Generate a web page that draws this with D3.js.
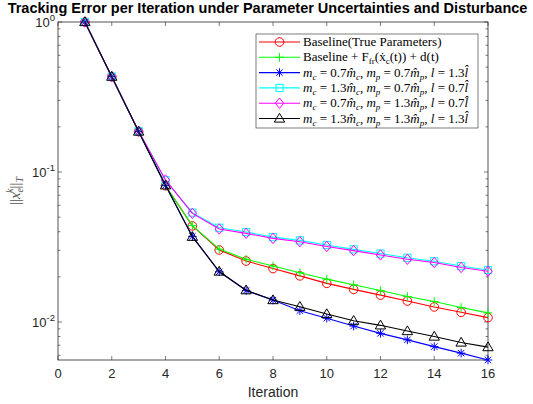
<!DOCTYPE html>
<html>
<head>
<meta charset="utf-8">
<script src="https://cdn.jsdelivr.net/npm/d3@7"></script>
<style>
  body { margin: 0; background: #fff; }
  svg { display: block; }
</style>
</head>
<body>
<div class="chart"></div>
<script>
// data
const iterations = [1, 2, 3, 4, 5, 6, 7, 8, 9, 10, 11, 12, 13, 14, 15, 16];
const baseline = [1, 0.432, 0.186, 0.081, 0.0437, 0.0302, 0.0255, 0.0227, 0.0203, 0.0181, 0.0165, 0.0151, 0.0138, 0.0126, 0.0116, 0.0107];
const baselineFric = [1, 0.432, 0.186, 0.081, 0.0439, 0.0306, 0.0262, 0.0236, 0.0213, 0.0193, 0.0177, 0.0162, 0.0148, 0.0137, 0.0125, 0.0115];
const case1 = [1, 0.432, 0.186, 0.0815, 0.0372, 0.0216, 0.0162, 0.0140, 0.0119, 0.0106, 0.0094, 0.0084, 0.0076, 0.00685, 0.0062, 0.00558];
const case2 = [1, 0.432, 0.187, 0.088, 0.0536, 0.0425, 0.0398, 0.0368, 0.0350, 0.0326, 0.0305, 0.0286, 0.0268, 0.0254, 0.0236, 0.0222];
const case3 = [1, 0.432, 0.187, 0.0885, 0.053, 0.0417, 0.039, 0.0361, 0.0343, 0.0319, 0.0299, 0.028, 0.0262, 0.0249, 0.0231, 0.0218];
const case4 = [1, 0.432, 0.186, 0.0815, 0.037, 0.0217, 0.0163, 0.0140, 0.01265, 0.0113, 0.0102, 0.0095, 0.0087, 0.0080, 0.0073, 0.0068];

const xTicks = [0, 2, 4, 6, 8, 10, 12, 14, 16];
const yTicks = [1, 0.1, 0.01];
const yTickExp = ["0", "-1", "-2"];

const width = 533;
const height = 404;
const margin = { top: 22, right: 45, bottom: 44, left: 58 };
const axisColor = "#262626";
const serif = "'Liberation Serif', 'DejaVu Serif', serif";
const sans = "'Liberation Sans', Arial, sans-serif";

const svg = d3.select(".chart")
    .append("svg")
    .attr("width", width)
    .attr("height", height);

const x = d3.scaleLinear()
    .domain([0, 16])
    .range([margin.left, width - margin.right]);

const y = d3.scaleLog()
    .domain([0.00558, 1])
    .range([height - margin.bottom, margin.top]);

const x0 = x.range()[0], x1 = x.range()[1];
const y0 = y.range()[0], y1 = y.range()[1];

// minor ticks for the log axis (2..9 of each decade inside the domain)
let minor = [];
[0.001, 0.01, 0.1].forEach(function(dec) {
  for (let k = 2; k <= 9; k++) {
    const v = dec * k;
    if (v >= y.domain()[0] && v <= 1) minor.push(v);
  }
});

const axes = svg.append("g").attr("class", "axes");

// x ticks bottom and top
xTicks.forEach(function(t) {
  axes.append("line").attr("x1", x(t)).attr("x2", x(t)).attr("y1", y0).attr("y2", y0 - 4)
      .attr("stroke", axisColor).attr("stroke-width", 0.6);
  axes.append("line").attr("x1", x(t)).attr("x2", x(t)).attr("y1", y1).attr("y2", y1 + 4)
      .attr("stroke", axisColor).attr("stroke-width", 0.6);
  axes.append("text")
      .attr("x", x(t)).attr("y", y0 + 18)
      .attr("text-anchor", "middle")
      .attr("font-family", sans).attr("font-size", 13)
      .attr("fill", axisColor)
      .text(t);
});

// y ticks left and right (major + minor)
yTicks.forEach(function(t, i) {
  axes.append("line").attr("x1", x0).attr("x2", x0 + 4).attr("y1", y(t)).attr("y2", y(t))
      .attr("stroke", axisColor).attr("stroke-width", 0.6);
  axes.append("line").attr("x1", x1).attr("x2", x1 - 4).attr("y1", y(t)).attr("y2", y(t))
      .attr("stroke", axisColor).attr("stroke-width", 0.6);
  const lab = axes.append("text")
      .attr("x", x0 - 3).attr("y", y(t) + 5)
      .attr("text-anchor", "end")
      .attr("font-family", sans).attr("font-size", 13)
      .attr("fill", axisColor);
  lab.append("tspan").text("10");
  lab.append("tspan").attr("dy", -6).attr("font-size", 9.5).text(yTickExp[i]);
});
minor.forEach(function(t) {
  axes.append("line").attr("x1", x0).attr("x2", x0 + 2.5).attr("y1", y(t)).attr("y2", y(t))
      .attr("stroke", axisColor).attr("stroke-width", 0.6);
  axes.append("line").attr("x1", x1).attr("x2", x1 - 2.5).attr("y1", y(t)).attr("y2", y(t))
      .attr("stroke", axisColor).attr("stroke-width", 0.6);
});

// box
axes.append("rect")
    .attr("x", x0).attr("y", y1)
    .attr("width", x1 - x0).attr("height", y0 - y1)
    .attr("fill", "none")
    .attr("stroke", axisColor)
    .attr("stroke-width", 0.8);

// labels
svg.append("text")
    .attr("x", (x0 + x1) / 2).attr("y", y0 + 37)
    .attr("text-anchor", "middle")
    .attr("font-family", sans).attr("font-size", 14)
    .attr("fill", axisColor)
    .text("Iteration");

svg.append("text")
    .attr("x", width / 2 + 1).attr("y", 13)
    .attr("text-anchor", "middle")
    .attr("font-family", sans).attr("font-size", 14.5)
    .attr("font-weight", "bold")
    .attr("fill", "#000")
    .text("Tracking Error per Iteration under Parameter Uncertainties and Disturbance");

const ylab = svg.append("text")
    .attr("transform", "translate(20," + ((y0 + y1) / 2) + ") rotate(-90)")
    .attr("text-anchor", "middle")
    .attr("font-family", serif).attr("font-size", 15)
    .attr("fill", "#555");
ylab.append("tspan").text("||");
ylab.append("tspan").attr("font-style", "italic").text("x");
ylab.append("tspan").attr("font-style", "italic").attr("font-size", 10).attr("dy", 3).text("e");
ylab.append("tspan").attr("font-style", "italic").attr("font-size", 10).attr("dx", -5).attr("dy", -10).text("k");
ylab.append("tspan").attr("dy", 7).text("||");
ylab.append("tspan").attr("font-style", "italic").attr("font-size", 10).attr("dy", 3).text("T");

// marker shapes
function drawMarker(g, type, color, cx, cy) {
  const s = 4.3;
  if (type === "circle") {
    g.append("circle").attr("cx", cx).attr("cy", cy).attr("r", s)
      .attr("fill", "none").attr("stroke", color).attr("stroke-width", 1);
  } else if (type === "plus") {
    g.append("path").attr("d", "M" + (cx - s) + "," + cy + "H" + (cx + s) + "M" + cx + "," + (cy - s) + "V" + (cy + s))
      .attr("stroke", color).attr("stroke-width", 1);
  } else if (type === "star") {
    const d = s * 0.75;
    g.append("path").attr("d",
        "M" + (cx - s) + "," + cy + "H" + (cx + s) +
        "M" + cx + "," + (cy - s) + "V" + (cy + s) +
        "M" + (cx - d) + "," + (cy - d) + "L" + (cx + d) + "," + (cy + d) +
        "M" + (cx - d) + "," + (cy + d) + "L" + (cx + d) + "," + (cy - d))
      .attr("stroke", color).attr("stroke-width", 1);
  } else if (type === "square") {
    g.append("rect").attr("x", cx - 3.6).attr("y", cy - 3.6).attr("width", 7.2).attr("height", 7.2)
      .attr("fill", "none").attr("stroke", color).attr("stroke-width", 1);
  } else if (type === "diamond") {
    g.append("path").attr("d", "M" + cx + "," + (cy - 5.2) + "L" + (cx + 4.2) + "," + cy + "L" + cx + "," + (cy + 5.2) + "L" + (cx - 4.2) + "," + cy + "Z")
      .attr("fill", "none").attr("stroke", color).attr("stroke-width", 1);
  } else if (type === "triangle") {
    g.append("path").attr("d", "M" + cx + "," + (cy - 5.2) + "L" + (cx + 5.2) + "," + (cy + 3.6) + "L" + (cx - 5.2) + "," + (cy + 3.6) + "Z")
      .attr("fill", "none").attr("stroke", color).attr("stroke-width", 1);
  }
}

const series = [
  { values: baseline, color: "#ff0000", marker: "circle" },
  { values: baselineFric, color: "#00ff00", marker: "plus" },
  { values: case1, color: "#0000ff", marker: "star" },
  { values: case2, color: "#00ffff", marker: "square" },
  { values: case3, color: "#ff00ff", marker: "diamond" },
  { values: case4, color: "#000000", marker: "triangle" }
];

const line = d3.line()
    .x(function(d) { return x(d[0]); })
    .y(function(d) { return y(d[1]); });

const plot = svg.append("g").attr("class", "plot");
series.forEach(function(s) {
  const pts = iterations.map(function(it, i) { return [it, s.values[i]]; });
  const g = plot.append("g");
  g.append("path")
      .attr("d", line(pts))
      .attr("fill", "none")
      .attr("stroke", s.color)
      .attr("stroke-width", 1.1);
  pts.forEach(function(p) { drawMarker(g, s.marker, s.color, x(p[0]), y(p[1])); });
});

// legend
const legendX = 256, legendY = 34, legendW = 222, legendH = 94;
const rowH = 15.3;
const legend = svg.append("g").attr("class", "legend");
legend.append("rect")
    .attr("x", legendX).attr("y", legendY)
    .attr("width", legendW).attr("height", legendH)
    .attr("fill", "#fff").attr("stroke", axisColor).attr("stroke-width", 0.6);

// label pieces: [text, italic, sub]
const legendLabels = [
  [["Baseline(True Parameters)", 0, 0]],
  [["Baseline + F", 0, 0], ["fr", 0, 1], ["(\u1E8B", 0, 0], ["c", 0, 1], ["(t)) + d(t)", 0, 0]],
  [["m", 1, 0], ["c", 1, 1], [" = 0.7", 0, 0], ["m\u0302", 1, 0], ["c", 1, 1], [", ", 0, 0], ["m", 1, 0], ["p", 1, 1], [" = 0.7", 0, 0], ["m\u0302", 1, 0], ["p", 1, 1], [", ", 0, 0], ["l", 1, 0], [" = 1.3", 0, 0], ["l\u0302", 1, 0]],
  [["m", 1, 0], ["c", 1, 1], [" = 1.3", 0, 0], ["m\u0302", 1, 0], ["c", 1, 1], [", ", 0, 0], ["m", 1, 0], ["p", 1, 1], [" = 0.7", 0, 0], ["m\u0302", 1, 0], ["p", 1, 1], [", ", 0, 0], ["l", 1, 0], [" = 0.7", 0, 0], ["l\u0302", 1, 0]],
  [["m", 1, 0], ["c", 1, 1], [" = 0.7", 0, 0], ["m\u0302", 1, 0], ["c", 1, 1], [", ", 0, 0], ["m", 1, 0], ["p", 1, 1], [" = 1.3", 0, 0], ["m\u0302", 1, 0], ["p", 1, 1], [", ", 0, 0], ["l", 1, 0], [" = 0.7", 0, 0], ["l\u0302", 1, 0]],
  [["m", 1, 0], ["c", 1, 1], [" = 1.3", 0, 0], ["m\u0302", 1, 0], ["c", 1, 1], [", ", 0, 0], ["m", 1, 0], ["p", 1, 1], [" = 1.3", 0, 0], ["m\u0302", 1, 0], ["p", 1, 1], [", ", 0, 0], ["l", 1, 0], [" = 1.3", 0, 0], ["l\u0302", 1, 0]]
];

series.forEach(function(s, i) {
  const cy = legendY + 8 + rowH * i;
  const g = legend.append("g");
  g.append("line").attr("x1", legendX + 3).attr("x2", legendX + 44)
      .attr("y1", cy).attr("y2", cy)
      .attr("stroke", s.color).attr("stroke-width", 1.1);
  drawMarker(g, s.marker, s.color, legendX + 23.5, cy);
  const t = g.append("text")
      .attr("x", legendX + 47).attr("y", cy + 4)
      .attr("font-family", serif).attr("font-size", 13)
      .attr("fill", "#000");
  let inSub = false;
  legendLabels[i].forEach(function(p) {
    const ts = t.append("tspan").text(p[0]);
    if (p[1]) ts.attr("font-style", "italic");
    if (p[2]) {
      ts.attr("font-size", 9);
      if (!inSub) ts.attr("dy", 3);
      inSub = true;
    } else {
      if (inSub) ts.attr("dy", -3);
      inSub = false;
    }
  });
});
</script>
</body>
</html>
